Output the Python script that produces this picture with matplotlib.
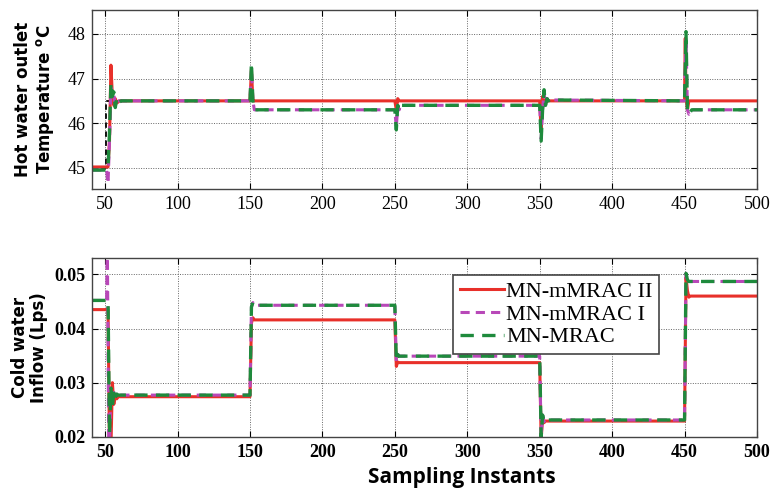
import matplotlib
matplotlib.use('Agg')
from matplotlib import pyplot as plt

# sampling instants where each curve changes (breakpoints)
# ---- top panel: hot water outlet temperature ----
ref_x = [41, 50.5, 50.5, 500]
ref_y = [45.0, 45.0, 46.5, 46.5]

t_red_x = [41, 52, 53, 54, 55, 56, 57, 58, 60, 150, 151, 152, 153, 250, 251, 252, 253,
           350, 351, 352, 353, 354, 450, 450.5, 451, 452, 453, 500]
t_red_y = [45.02, 45.02, 45.6, 47.3, 46.6, 46.4, 46.55, 46.45, 46.5, 46.5, 47.2, 46.5, 46.5,
           46.5, 46.3, 46.55, 46.5, 46.5, 45.8, 46.6, 46.45, 46.5, 46.5, 47.9, 46.6, 46.3,
           46.5, 46.5]

t_mag_x = [41, 51, 52, 53, 54, 55, 56, 57, 58, 60, 150, 151, 152, 153, 250, 251, 252, 253,
           254, 350, 351, 352, 353, 354, 355, 357, 450, 451, 452, 453, 455, 500]
t_mag_y = [44.95, 44.95, 44.65, 45.6, 46.8, 46.6, 46.65, 46.4, 46.5, 46.5, 46.5, 47.2, 46.5,
           46.3, 46.3, 45.9, 46.4, 46.3, 46.4, 46.4, 45.65, 46.3, 46.7, 46.4, 46.55, 46.52,
           46.5, 47.9, 46.3, 46.2, 46.3, 46.3]

t_grn_x = [41, 51, 52, 53, 54, 55, 56, 57, 58, 59, 61, 150, 151, 152, 153, 250, 251, 252,
           253, 254, 350, 351, 352, 353, 354, 355, 356, 357, 450, 451, 452, 453, 455, 500]
t_grn_y = [44.95, 44.95, 45.0, 45.8, 46.9, 46.6, 46.7, 46.35, 46.55, 46.45, 46.5, 46.5,
           47.35, 46.5, 46.3, 46.3, 45.85, 46.4, 46.3, 46.4, 46.4, 45.6, 46.3, 46.75, 46.4,
           46.55, 46.5, 46.52, 46.5, 48.05, 46.3, 46.2, 46.3, 46.3]

# ---- bottom panel: cold water inflow ----
f_red_x = [41, 52, 53, 54, 55, 56, 57, 58, 59, 150, 151, 152, 153, 250, 251, 252, 253,
           350, 351, 352, 353, 354, 450, 451, 452, 453, 454, 500]
f_red_y = [0.0435, 0.0435, 0.018, 0.018, 0.030, 0.026, 0.0278, 0.0270, 0.0274, 0.0274,
           0.0410, 0.0420, 0.0416, 0.0416, 0.0330, 0.0338, 0.0337, 0.0337, 0.0195, 0.0235,
           0.0226, 0.0229, 0.0229, 0.0495, 0.0470, 0.0458, 0.0460, 0.0460]

f_mag_x = [41, 51, 51.5, 52.5, 53, 54, 55, 56, 57, 58, 150, 151, 152, 153, 250, 251, 252,
           253, 350, 351, 352, 353, 354, 450, 451, 452, 453, 500]
f_mag_y = [0.0452, 0.0452, 0.056, 0.018, 0.018, 0.0285, 0.0265, 0.0282, 0.0274, 0.0277,
           0.0277, 0.0440, 0.0448, 0.0443, 0.0443, 0.0340, 0.0352, 0.0349, 0.0349, 0.0200,
           0.0240, 0.0228, 0.0231, 0.0231, 0.0502, 0.0490, 0.0487, 0.0487]

f_grn_x = [41, 52, 53, 54, 55, 56, 57, 58, 59, 150, 151, 152, 153, 250, 251, 252, 253,
           350, 351, 352, 353, 354, 450, 451, 452, 453, 500]
f_grn_y = [0.0452, 0.0452, 0.0205, 0.029, 0.0255, 0.0285, 0.0272, 0.0279, 0.0277, 0.0277,
           0.0440, 0.0448, 0.0443, 0.0443, 0.0340, 0.0352, 0.0349, 0.0349, 0.0200, 0.0240,
           0.0228, 0.0231, 0.0231, 0.0502, 0.0490, 0.0487, 0.0487]

x_ticks = [50, 100, 150, 200, 250, 300, 350, 400, 450, 500]
labels = ['MN-mMRAC II', 'MN-mMRAC I', 'MN-MRAC']

red = '#e8302a'
magenta = '#b848b8'
green = '#1e8a3c'
serif = 'Liberation Serif'

fig = plt.figure(figsize=(7.74, 4.88), dpi=100)
ax1 = fig.add_axes([0.119, 0.613, 0.859, 0.367])
ax2 = fig.add_axes([0.119, 0.105, 0.859, 0.367])

# top panel
ax1.plot(ref_x, ref_y, color='black', ls=(0, (3, 2)), lw=1.3)
ax1.plot(t_red_x, t_red_y, color=red, lw=2.2)
ax1.plot(t_mag_x, t_mag_y, color=magenta, ls=(0, (3, 2)), lw=2.2)
ax1.plot(t_grn_x, t_grn_y, color=green, ls=(0, (4, 2.5)), lw=2.4)
ax1.set_xlim(41, 500)
ax1.set_ylim(44.53, 48.54)
ax1.set_yticks([45, 46, 47, 48])
ax1.set_xticks(x_ticks)
ax1.set_ylabel('Hot water outlet\nTemperature $^{\\mathbf{o}}$C', fontsize=12,
               fontweight='bold', family='DejaVu Sans', linespacing=1.1, labelpad=8)

# bottom panel
l1, = ax2.plot(f_red_x, f_red_y, color=red, lw=2.2)
l2, = ax2.plot(f_mag_x, f_mag_y, color=magenta, ls=(0, (3, 2)), lw=2.2)
l3, = ax2.plot(f_grn_x, f_grn_y, color=green, ls=(0, (4, 2.5)), lw=2.4)
ax2.set_xlim(41, 500)
ax2.set_ylim(0.02, 0.0531)
ax2.set_yticks([0.02, 0.03, 0.04, 0.05])
ax2.set_xticks(x_ticks)
ax2.set_ylabel('Cold water\nInflow (Lps)', fontsize=12, fontweight='bold',
               family='DejaVu Sans', linespacing=1.1, labelpad=4)

leg = ax2.legend([l1, l2, l3], labels, loc='upper left', bbox_to_anchor=(0.526, 0.968),
                 prop={'family': serif, 'size': 16}, handlelength=2.0, handletextpad=0.1,
                 borderpad=0.3, labelspacing=0.1, fancybox=False, framealpha=1,
                 edgecolor='#444444')
leg.get_frame().set_linewidth(1.2)

for ax, bold in ((ax1, 'normal'), (ax2, 'bold')):
    ax.grid(True, color='#666666', ls=(0, (1, 1.5)), lw=0.7)
    ax.tick_params(direction='in', length=4, top=True, right=True, labelsize=13, pad=5)
    for lab in ax.get_xticklabels() + ax.get_yticklabels():
        lab.set_family(serif)
        lab.set_fontweight(bold)
    for s in ax.spines.values():
        s.set_color('#444444')
        s.set_linewidth(1.0)

fig.text(462 / 774, 1 - 478 / 488, 'Sampling Instants', ha='center', va='center',
         fontsize=15, fontweight='bold', family='Open Sans')

plt.savefig('out.png', dpi=100)
